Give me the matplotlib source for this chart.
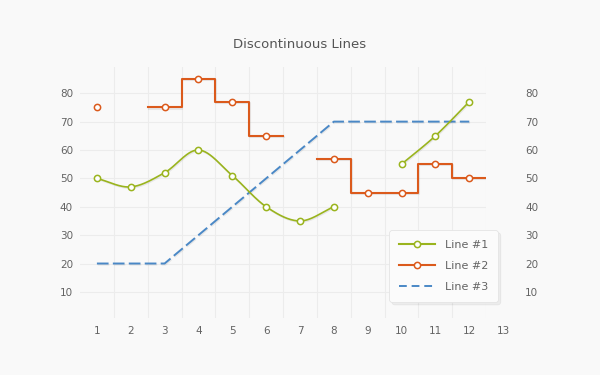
import numpy as np
import matplotlib
matplotlib.use("Agg")
import matplotlib.pyplot as plt
import matplotlib.patheffects as pe
from matplotlib.lines import Line2D

# --- data (None = gap) ---
x = [1, 2, 3, 4, 5, 6, 7, 8, 9, 10, 11, 12]
line1 = [50, 47, 52, 60, 51, 40, 35, 40, None, 55, 65, 77]
line2 = [75, None, 75, 85, 77, 65, None, 57, 45, 45, 55, 50]
line3 = [20, 20, 20, 30, 40, 50, 60, 70, 70, 70, 70, 70]
x_ticks = list(range(1, 14))
y_ticks = [10, 20, 30, 40, 50, 60, 70, 80]

GREEN = "#9ab41e"
ORANGE = "#db5a1c"
BLUE = "#4a88c6"
TXT = "#636363"
BG = "#f9f9f9"


def runs(xs, ys):
    out, cur = [], []
    for a, b in zip(xs, ys):
        if b is None:
            if cur:
                out.append(cur)
            cur = []
        else:
            cur.append((a, b))
    if cur:
        out.append(cur)
    return out


def catmull(pts, n=30):
    # smooth curve through the points (drawing only)
    p = np.array(pts, dtype=float)
    if len(p) < 3:
        return p[:, 0], p[:, 1]
    ext = np.vstack([2 * p[0] - p[1], p, 2 * p[-1] - p[-2]])
    xs, ys = [], []
    for i in range(1, len(ext) - 2):
        p0, p1, p2, p3 = ext[i - 1], ext[i], ext[i + 1], ext[i + 2]
        t = np.linspace(0, 1, n)[:, None]
        c = 0.5 * ((2 * p1) + (-p0 + p2) * t + (2 * p0 - 5 * p1 + 4 * p2 - p3) * t ** 2
                   + (-p0 + 3 * p1 - 3 * p2 + p3) * t ** 3)
        xs.extend(c[:, 0]); ys.extend(c[:, 1])
    return np.array(xs), np.array(ys)


def step_mid(pts):
    if len(pts) < 2:
        return [], []
    xs, ys = [], []
    for a, b in pts:
        xs += [a - 0.5, a + 0.5]
        ys += [b, b]
    return xs, ys


shadow = [pe.SimpleLineShadow(offset=(0.6, -0.8), alpha=0.07, shadow_color="black"), pe.Normal()]

fig = plt.figure(figsize=(6, 3.75), dpi=100, facecolor=BG)
ax = fig.add_axes([0.1333, 0.152, 0.677, 0.669], facecolor=BG)
ax.set_xlim(0.5, 12.5)
ax.set_ylim(0.8, 89.2)

ax.set_xticks([v + 0.5 for v in x_ticks[:-1]], minor=True)
ax.set_xticks(x_ticks[:-1])
ax.set_yticks(y_ticks)
ax.grid(True, which="minor", axis="x", color="#ececec", lw=0.8)
ax.grid(True, which="major", axis="y", color="#ececec", lw=0.8)
for s in ax.spines.values():
    s.set_visible(False)
ax.tick_params(which="both", length=0)
ax.tick_params(axis="x", labelsize=7.5, labelcolor=TXT, pad=6)
ax.tick_params(axis="y", labelsize=7.5, labelcolor=TXT, pad=5)
ax.text(13, -0.053, "13", transform=ax.get_xaxis_transform(), ha="center", va="center",
        fontsize=7.5, color=TXT)

ax2 = ax.twinx()
ax2.set_ylim(ax.get_ylim())
ax2.set_yticks(y_ticks)
for s in ax2.spines.values():
    s.set_visible(False)
ax2.tick_params(length=0, labelsize=7.5, labelcolor=TXT, pad=28)

mk = dict(marker="o", ms=4.5, mfc="white", mew=1.1, ls="none", zorder=5)

# line 3 - dashed
ax.plot(x, line3, color=BLUE, lw=1.4, dashes=(6, 2.2), path_effects=shadow, zorder=3)

# line 1 - smooth
for r in runs(x, line1):
    sx, sy = catmull(r)
    ax.plot(sx, sy, color=GREEN, lw=1.2, path_effects=shadow, zorder=3)
    ax.plot([a for a, _ in r], [b for _, b in r], mec=GREEN, **mk)

# line 2 - step
for r in runs(x, line2):
    sx, sy = step_mid(r)
    if sx:
        ax.plot(sx, sy, color=ORANGE, lw=1.5, path_effects=shadow, zorder=3)
    ax.plot([a for a, _ in r], [b for _, b in r], mec=ORANGE, **mk)

handles = [
    Line2D([], [], color=GREEN, lw=1.5, marker="o", ms=4.5, mfc="white", mec=GREEN, mew=1.1),
    Line2D([], [], color=ORANGE, lw=1.5, marker="o", ms=4.5, mfc="white", mec=ORANGE, mew=1.1),
    Line2D([], [], color=BLUE, lw=1.4, dashes=(4, 2.5)),
]
leg = ax.legend(handles, ["Line #1", "Line #2", "Line #3"], loc="upper left",
                bbox_to_anchor=(0.761, 0.351), borderaxespad=0, fontsize=8, frameon=True,
                fancybox=True, handlelength=3.2, handletextpad=0.9, labelspacing=1.0,
                borderpad=0.9, shadow={"color": "black", "alpha": 0.05}, framealpha=1)
leg.get_frame().set_facecolor("#fbfbfb")
leg.get_frame().set_edgecolor("#e4e4e4")
leg.get_frame().set_linewidth(0.6)
leg.get_frame().set_boxstyle("round,pad=0,rounding_size=0.3")
for t in leg.get_texts():
    t.set_color(TXT)
leg.set_zorder(10)

fig.text(0.5, 0.88, "Discontinuous Lines", ha="center", va="center", fontsize=9.5, color="#555555")

fig.savefig("out.png", dpi=100, facecolor=BG)
